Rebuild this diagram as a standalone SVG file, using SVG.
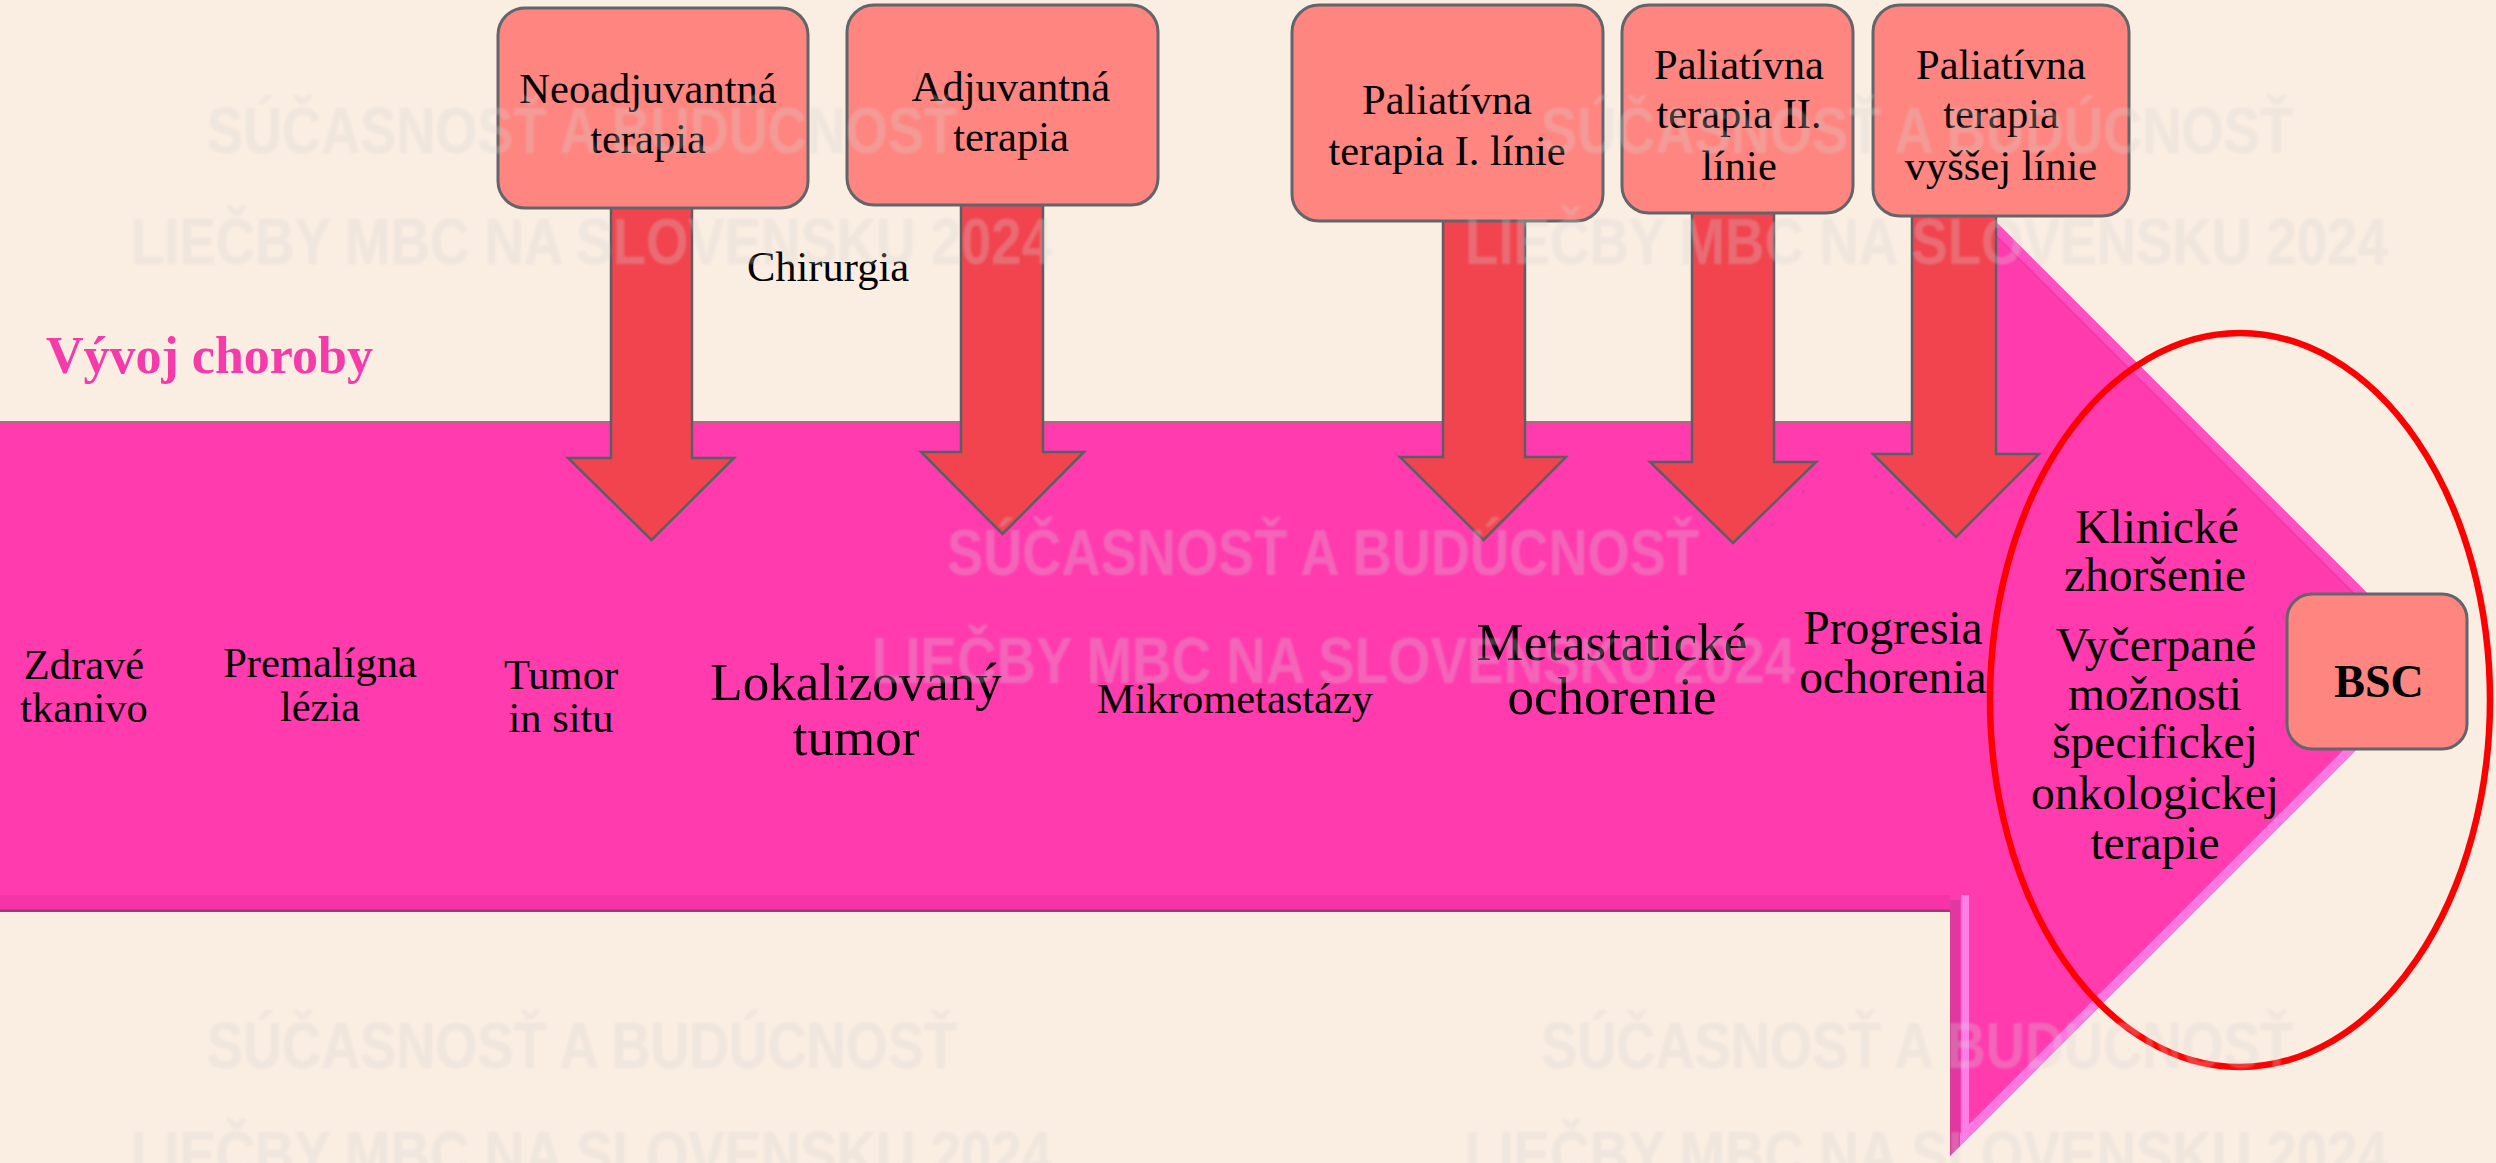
<svg xmlns="http://www.w3.org/2000/svg" width="2496" height="1163" viewBox="0 0 2496 1163">
<defs>
<style>
.t{font-family:"Liberation Serif","Times New Roman",serif;font-size:42.5px;fill:#000;text-anchor:middle}
.tl{font-size:53px}
.tm{font-size:47.5px}
.box{fill:#FF8580;stroke:#62666A;stroke-width:3}
.arr{fill:#F2444F;stroke:#5A5F63;stroke-width:2.5;stroke-linejoin:miter}
.wm{font-family:"Liberation Sans Narrow","Liberation Sans",Arial,sans-serif;font-weight:bold;font-size:64px;fill:#D2D2D2;opacity:0.28}
</style>
<clipPath id="shapeClip">
<path d="M0,421 L1950,421 L1950,176 L2440,666 L1950,1156 L1950,912 L0,912 Z"/>
</clipPath>
<filter id="soft" x="-5%" y="-20%" width="110%" height="140%"><feGaussianBlur stdDeviation="0.9"/></filter>
</defs>
<rect x="0" y="0" width="2496" height="1163" fill="#FAEDE2"/>

<g id="main-arrow">
<path d="M0,421 L1950,421 L1950,176 L2440,666 L1950,1156 L1950,912 L0,912 Z" fill="#FF3BAE"/>
<g clip-path="url(#shapeClip)">
<line x1="1950" y1="176" x2="2440" y2="666" stroke="#FF50C2" stroke-width="22"/>
<line x1="1957" y1="197" x2="2433" y2="673" stroke="#EE38A8" stroke-width="2"/>
<line x1="1950" y1="1156" x2="2440" y2="666" stroke="#FF78E2" stroke-width="18"/>
<line x1="1955" y1="900" x2="1955" y2="1156" stroke="#E0389F" stroke-width="10"/>
<line x1="1965" y1="895" x2="1965" y2="1145" stroke="#FF7EE6" stroke-width="8"/>
<rect x="0" y="895" width="1950" height="17" fill="#F634A8"/>
<line x1="0" y1="911" x2="1950" y2="911" stroke="#9E3A70" stroke-width="3"/>
<line x1="0" y1="422" x2="1950" y2="422" stroke="#B06A80" stroke-width="2.5"/>
</g>
</g>

<g id="connectors">
<path class="arr" d="M611,200 L692,200 L692,458 L734,458 L651.5,540 L568,458 L611,458 Z"/>
<path class="arr" d="M961,200 L1043,200 L1043,452 L1084,452 L1002.5,534 L921,452 L961,452 Z"/>
<path class="arr" d="M1443,215 L1525,215 L1525,457 L1566,457 L1483.5,540 L1400,457 L1443,457 Z"/>
<path class="arr" d="M1692,205 L1774,205 L1774,462 L1816,462 L1733,543 L1650,462 L1692,462 Z"/>
<path class="arr" d="M1912,208 L1996,208 L1996,454 L2039,454 L1956,537 L1873,454 L1912,454 Z"/>
</g>

<g id="node-neoadjuvantna">
<rect class="box" x="498" y="8" width="310" height="200" rx="27"/>
<text class="t" x="648" y="103">Neoadjuvantná</text>
<text class="t" x="648" y="153">terapia</text>
</g>
<g id="node-adjuvantna">
<rect class="box" x="847" y="5" width="311" height="200" rx="27"/>
<text class="t" x="1011" y="101">Adjuvantná</text>
<text class="t" x="1011" y="151">terapia</text>
</g>
<g id="node-paliativna-1">
<rect class="box" x="1292" y="5" width="311" height="216" rx="27"/>
<text class="t" x="1447" y="114">Paliatívna</text>
<text class="t" x="1447" y="165">terapia I. línie</text>
</g>
<g id="node-paliativna-2">
<rect class="box" x="1622" y="5" width="231" height="208" rx="27"/>
<text class="t" x="1739" y="79">Paliatívna</text>
<text class="t" x="1739" y="128">terapia II.</text>
<text class="t" x="1739" y="180">línie</text>
</g>
<g id="node-paliativna-vyssej">
<rect class="box" x="1873" y="5" width="256" height="211" rx="27"/>
<text class="t" x="2001" y="79">Paliatívna</text>
<text class="t" x="2001" y="128">terapia</text>
<text class="t" x="2001" y="180">vyššej línie</text>
</g>

<g id="label-chirurgia"><text class="t" x="828" y="281">Chirurgia</text></g>
<g id="label-vyvoj"><text x="46" y="373" style="font-family:'Liberation Serif','Times New Roman',serif;font-weight:bold;font-size:52px;fill:#F53BAA">Vývoj choroby</text></g>

<g id="stages">
<text class="t" x="84" y="679">Zdravé</text>
<text class="t" x="84" y="722">tkanivo</text>
<text class="t" x="320" y="677">Premalígna</text>
<text class="t" x="320" y="721">lézia</text>
<text class="t" x="561" y="689">Tumor</text>
<text class="t" x="561" y="732">in situ</text>
<text class="t tl" x="856" y="700">Lokalizovaný</text>
<text class="t tl" x="856" y="755">tumor</text>
<text class="t" x="1235" y="713">Mikrometastázy</text>
<text class="t tl" x="1612" y="660">Metastatické</text>
<text class="t tl" x="1612" y="714">ochorenie</text>
<text class="t tm" x="1893" y="644">Progresia</text>
<text class="t tm" x="1893" y="693">ochorenia</text>
<text class="t tm" x="2157" y="543">Klinické</text>
<text class="t tm" x="2155" y="591">zhoršenie</text>
<text class="t tm" x="2156" y="661">Vyčerpané</text>
<text class="t tm" x="2155" y="710">možnosti</text>
<text class="t tm" x="2155" y="758">špecifickej</text>
<text class="t tm" x="2155" y="809">onkologickej</text>
<text class="t tm" x="2155" y="859">terapie</text>
</g>

<g id="highlight-ellipse">
<ellipse cx="2240" cy="700" rx="250" ry="367" fill="none" stroke="#FF0000" stroke-width="6.5"/>
</g>

<g id="node-bsc">
<rect class="box" x="2287" y="594" width="180" height="155" rx="25"/>
<text class="t" x="2379" y="697" style="font-weight:bold;font-size:46px">BSC</text>
</g>

<g id="watermarks" filter="url(#soft)">
<text class="wm" x="207" y="153" textLength="750" lengthAdjust="spacingAndGlyphs">SÚČASNOSŤ A BUDÚCNOSŤ</text>
<text class="wm" x="131" y="264" textLength="921" lengthAdjust="spacingAndGlyphs">LIEČBY MBC NA SLOVENSKU 2024</text>
<text class="wm" x="1541" y="153" textLength="752" lengthAdjust="spacingAndGlyphs">SÚČASNOSŤ A BUDÚCNOSŤ</text>
<text class="wm" x="1465" y="264" textLength="923" lengthAdjust="spacingAndGlyphs">LIEČBY MBC NA SLOVENSKU 2024</text>
<text class="wm" x="947" y="575" textLength="752" lengthAdjust="spacingAndGlyphs">SÚČASNOSŤ A BUDÚCNOSŤ</text>
<text class="wm" x="872" y="683" textLength="923" lengthAdjust="spacingAndGlyphs">LIEČBY MBC NA SLOVENSKU 2024</text>
<text class="wm" x="207" y="1068" textLength="750" lengthAdjust="spacingAndGlyphs">SÚČASNOSŤ A BUDÚCNOSŤ</text>
<text class="wm" x="131" y="1177" textLength="921" lengthAdjust="spacingAndGlyphs">LIEČBY MBC NA SLOVENSKU 2024</text>
<text class="wm" x="1541" y="1068" textLength="752" lengthAdjust="spacingAndGlyphs">SÚČASNOSŤ A BUDÚCNOSŤ</text>
<text class="wm" x="1465" y="1177" textLength="923" lengthAdjust="spacingAndGlyphs">LIEČBY MBC NA SLOVENSKU 2024</text>
</g>
</svg>
